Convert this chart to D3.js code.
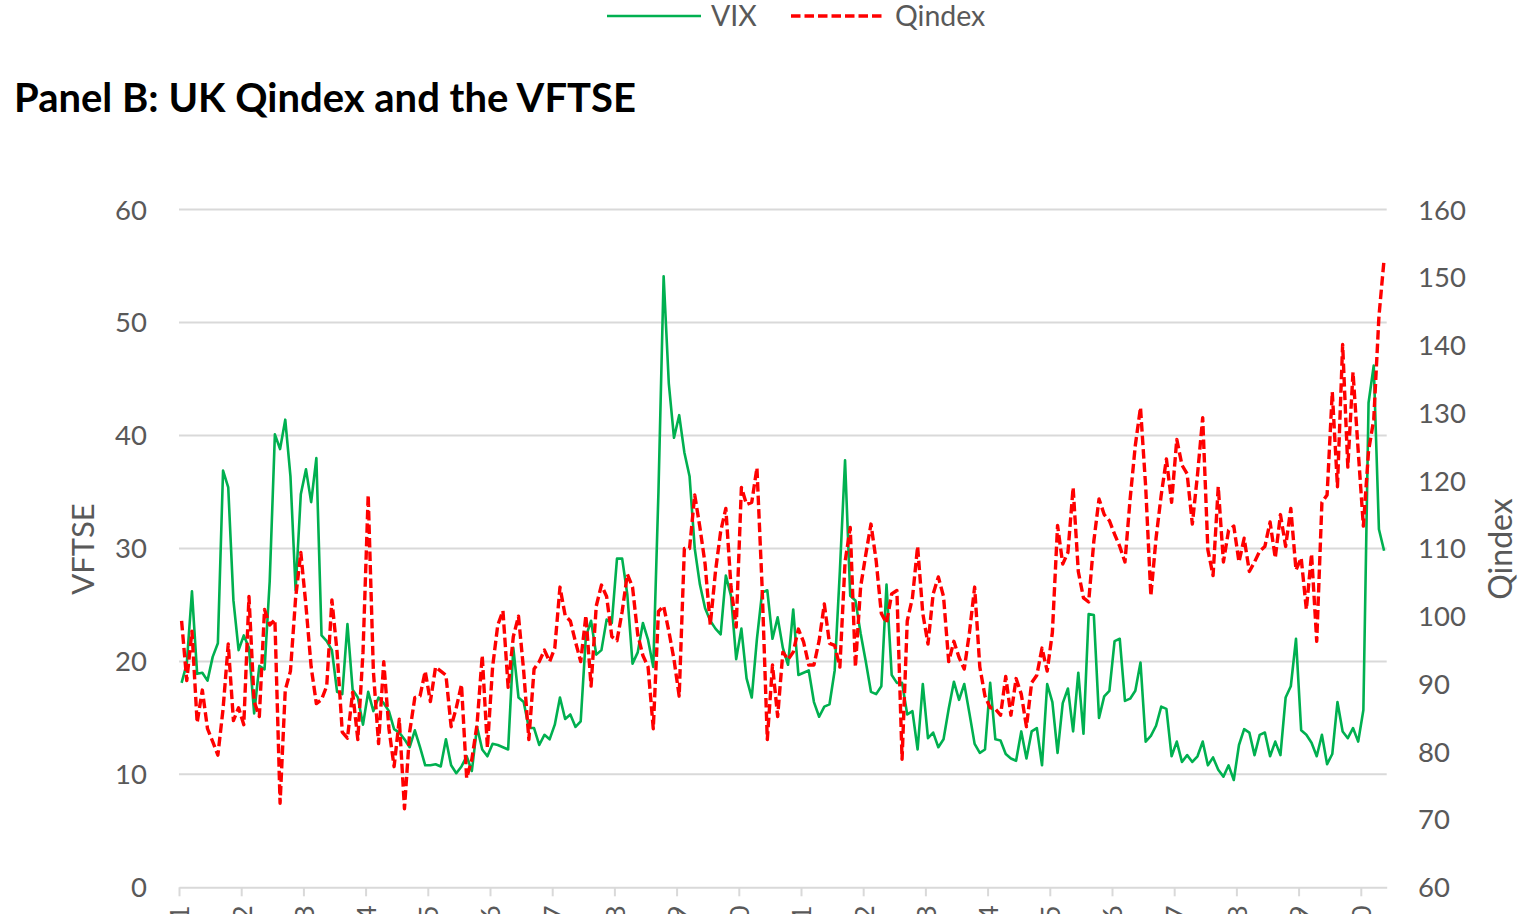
<!DOCTYPE html>
<html>
<head>
<meta charset="utf-8">
<script src="https://cdn.jsdelivr.net/npm/d3@7"></script>
<style>
body { margin: 0; background: #fff; }
text { font-family: Lato, "Open Sans", sans-serif; }
</style>
</head>
<body>
<div id="chart"></div>
<script>
// monthly values, Jan 2001 .. May 2020
var vftse = [
  18.1, 19.8, 26.2, 18.9, 19.0, 18.3, 20.4, 21.6, 36.9, 35.4,
  25.4, 21.0, 22.3, 21.2, 15.4, 19.6, 19.3, 27.1, 40.1, 38.8,
  41.4, 36.4, 26.3, 34.8, 37.0, 34.1, 38.0, 22.3, 21.8, 21.0,
  17.3, 17.1, 23.3, 17.5, 16.8, 14.4, 17.3, 15.6, 16.8, 16.3,
  15.6, 14.0, 13.7, 13.1, 12.4, 13.9, 12.4, 10.8, 10.8, 10.9,
  10.7, 13.1, 10.8, 10.1, 10.7, 11.6, 10.3, 14.2, 12.2, 11.6,
  12.7, 12.6, 12.4, 12.2, 21.2, 16.8, 16.4, 14.1, 14.1, 12.6,
  13.5, 13.1, 14.4, 16.8, 14.9, 15.3, 14.2, 14.7, 22.2, 23.6,
  20.6, 21.0, 23.7, 23.4, 29.1, 29.1, 25.9, 19.8, 20.8, 23.4,
  21.9, 19.5, 35.0, 54.1, 44.6, 39.8, 41.8, 38.5, 36.4, 30.0,
  26.8, 24.7, 23.6, 22.9, 22.4, 27.6, 25.8, 20.2, 22.9, 18.5,
  16.8, 22.0, 26.1, 26.3, 22.0, 23.9, 21.2, 19.7, 24.6, 18.8,
  19.0, 19.2, 16.4, 15.1, 16.0, 16.2, 19.2, 28.0, 37.8, 25.8,
  25.4, 22.5, 20.0, 17.3, 17.1, 17.8, 26.8, 18.8, 18.1, 18.1,
  15.3, 15.6, 12.2, 18.0, 13.2, 13.7, 12.4, 13.1, 15.8, 18.2,
  16.6, 18.0, 15.4, 12.7, 11.9, 12.2, 18.1, 13.1, 13.0, 11.8,
  11.4, 11.2, 13.8, 11.4, 13.8, 14.1, 10.8, 18.0, 16.4, 11.9,
  16.3, 17.6, 13.8, 19.0, 13.6, 24.2, 24.1, 15.0, 16.9, 17.4,
  21.8, 22.0, 16.5, 16.7, 17.4, 19.9, 12.9, 13.4, 14.3, 16.0,
  15.8, 11.6, 12.9, 11.1, 11.7, 11.1, 11.6, 12.9, 10.8, 11.5,
  10.4, 9.8, 10.8, 9.5, 12.6, 14.0, 13.7, 11.7, 13.5, 13.7,
  11.6, 12.9, 11.7, 16.8, 17.8, 22.0, 13.9, 13.5, 12.8, 11.6,
  13.5, 10.9, 11.8, 16.4, 13.8, 13.2, 14.1, 12.9, 15.7, 42.9,
  46.2, 31.7, 29.8
];

var qindex = [
  99.3, 90.5, 97.8, 84.3, 89.1, 83.4, 81.5, 79.5, 86.3, 95.9,
  84.6, 86.5, 84.0, 102.9, 87.4, 85.2, 101.0, 98.7, 99.5, 72.4,
  89.1, 91.9, 102.7, 109.4, 101.5, 92.5, 87.1, 87.7, 89.7, 102.4,
  94.7, 82.9, 82.0, 88.8, 81.8, 94.7, 117.9, 91.9, 81.2, 93.3,
  83.4, 77.8, 84.8, 71.6, 82.9, 88.0, 88.2, 91.9, 87.4, 92.5,
  91.9, 91.3, 83.7, 86.5, 89.9, 76.1, 78.9, 84.0, 94.2, 80.6,
  92.5, 98.7, 100.8, 89.5, 97.0, 100.0, 91.9, 81.8, 92.2, 93.3,
  95.0, 93.3, 95.3, 104.3, 100.1, 99.3, 96.2, 93.3, 100.1, 89.7,
  101.5, 104.6, 102.9, 97.0, 96.4, 100.7, 106.2, 104.3, 97.3, 94.2,
  92.5, 83.4, 100.7, 101.5, 97.8, 93.6, 88.2, 110.0, 110.0, 117.9,
  113.1, 107.7, 98.7, 106.6, 112.5, 115.9, 104.3, 98.4, 119.0, 116.5,
  116.8, 121.9, 104.3, 81.8, 92.8, 85.2, 94.7, 93.6, 94.7, 98.1,
  96.2, 92.8, 92.8, 96.4, 101.8, 96.0, 95.7, 92.5, 108.0, 113.1,
  92.5, 104.3, 109.1, 113.6, 108.2, 100.4, 99.0, 103.3, 103.8, 78.9,
  99.3, 102.7, 110.3, 100.4, 95.9, 103.3, 105.8, 102.9, 93.3, 96.3,
  93.9, 92.2, 97.6, 104.3, 92.5, 88.2, 86.5, 86.3, 85.4, 91.1,
  85.4, 90.8, 88.5, 83.7, 90.2, 91.3, 95.3, 91.9, 97.6, 113.4,
  107.7, 109.4, 119.0, 106.6, 102.7, 102.1, 111.1, 117.3, 115.0, 114.1,
  112.1, 110.3, 108.0, 117.3, 125.2, 130.8, 119.1, 103.0, 111.5, 117.9,
  123.2, 116.8, 126.1, 122.3, 121.0, 113.6, 120.9, 129.3, 109.8, 106.0,
  119.1, 108.0, 112.7, 113.3, 108.0, 111.5, 106.6, 108.0, 109.6, 110.3,
  113.9, 108.6, 115.0, 110.3, 115.9, 106.8, 108.6, 101.0, 109.2, 96.3,
  116.8, 117.9, 133.1, 119.1, 140.1, 122.0, 136.0, 124.4, 113.3, 124.4,
  129.0, 144.2, 152.7
];

var yearLabels = ["2001", "2002", "2003", "2004", "2005", "2006", "2007", "2008", "2009", "2010",
                  "2011", "2012", "2013", "2014", "2015", "2016", "2017", "2018", "2019", "2020"];
var leftTicks = [0, 10, 20, 30, 40, 50, 60];
var rightTicks = [60, 70, 80, 90, 100, 110, 120, 130, 140, 150, 160];
var seriesNames = ["VIX", "Qindex"];
var titleText = "Panel B: UK Qindex and the VFTSE";

var green = "#00b050", red = "#ff0000", grey = "#595959", gridCol = "#d9d9d9";

var svg = d3.select("#chart").append("svg")
    .attr("width", 1533)
    .attr("height", 914);

// scales: one slot per month, points in the middle of the slot
var x = d3.scaleLinear().domain([0, vftse.length]).range([179, 1386.7]);
var y = d3.scaleLinear().domain([0, 60]).range([887.3, 209.6]);
var y2 = d3.scaleLinear().domain([60, 160]).range([887.3, 209.6]);

// gridlines
svg.append("g").selectAll("line")
    .data(leftTicks.filter(function(d) { return d > 0; }))
    .enter().append("line")
    .attr("x1", x.range()[0])
    .attr("x2", x.range()[1])
    .attr("y1", function(d) { return y(d); })
    .attr("y2", function(d) { return y(d); })
    .attr("stroke", gridCol)
    .attr("stroke-width", 2);

// x axis, ticks every january (labels run off the bottom edge like the original)
var xAxis = svg.append("g")
    .attr("transform", "translate(0," + y(0) + ")")
    .call(d3.axisBottom(x)
        .tickValues(yearLabels.map(function(d, i) { return i * 12; }))
        .tickSize(9)
        .tickSizeOuter(0)
        .tickFormat(function(d) { return yearLabels[d / 12]; }));
xAxis.select(".domain").attr("stroke", gridCol).attr("stroke-width", 2);
xAxis.selectAll(".tick line").attr("stroke", gridCol).attr("stroke-width", 2);
xAxis.selectAll(".tick text")
    .attr("fill", grey)
    .style("font-size", "27.5px")
    .attr("text-anchor", "end")
    .attr("transform", "rotate(-90)")
    .attr("x", -18)
    .attr("y", 0)
    .attr("dy", "0.36em");

// left axis labels
svg.append("g").selectAll("text")
    .data(leftTicks)
    .enter().append("text")
    .attr("x", 147)
    .attr("y", function(d) { return y(d); })
    .attr("dy", "0.36em")
    .attr("text-anchor", "end")
    .attr("fill", grey)
    .style("font-size", "27.5px")
    .text(function(d) { return d; });

// right axis labels
svg.append("g").selectAll("text")
    .data(rightTicks)
    .enter().append("text")
    .attr("x", 1418)
    .attr("y", function(d) { return y2(d); })
    .attr("dy", "0.36em")
    .attr("fill", grey)
    .style("font-size", "27.5px")
    .text(function(d) { return d; });

// axis titles
svg.append("text")
    .attr("transform", "translate(83,549) rotate(-90)")
    .attr("text-anchor", "middle")
    .attr("dy", "0.36em")
    .attr("fill", grey)
    .style("font-size", "31px")
    .text("VFTSE");
svg.append("text")
    .attr("transform", "translate(1500,549) rotate(-90)")
    .attr("text-anchor", "middle")
    .attr("dy", "0.36em")
    .attr("fill", grey)
    .style("font-size", "32px")
    .text("Qindex");

// lines
var vLine = d3.line()
    .x(function(d, i) { return x(i + 0.5); })
    .y(function(d) { return y(d); });
var qLine = d3.line()
    .x(function(d, i) { return x(i + 0.5); })
    .y(function(d) { return y2(d); });

svg.append("path")
    .datum(vftse)
    .attr("fill", "none")
    .attr("stroke", green)
    .attr("stroke-width", 2.6)
    .attr("stroke-linejoin", "round")
    .attr("d", vLine);

svg.append("path")
    .datum(qindex)
    .attr("fill", "none")
    .attr("stroke", red)
    .attr("stroke-width", 3.4)
    .attr("stroke-dasharray", "9.5,4")
    .attr("stroke-linejoin", "round")
    .attr("d", qLine);

// title
svg.append("text")
    .attr("x", 14)
    .attr("y", 112)
    .attr("fill", "#000")
    .style("font-size", "40px")
    .style("font-weight", "bold")
    .text(titleText);

// legend
var legend = svg.append("g");
legend.append("line").attr("x1", 607).attr("x2", 701).attr("y1", 16).attr("y2", 16)
    .attr("stroke", green).attr("stroke-width", 2.6);
legend.append("text").attr("x", 711).attr("y", 16).attr("dy", "0.36em")
    .attr("fill", grey).style("font-size", "28.5px").text(seriesNames[0]);
legend.append("line").attr("x1", 791).attr("x2", 884).attr("y1", 16).attr("y2", 16)
    .attr("stroke", red).attr("stroke-width", 3.4).attr("stroke-dasharray", "9.5,4");
legend.append("text").attr("x", 895).attr("y", 16).attr("dy", "0.36em")
    .attr("fill", grey).style("font-size", "28.5px").text(seriesNames[1]);
</script>
</body>
</html>
